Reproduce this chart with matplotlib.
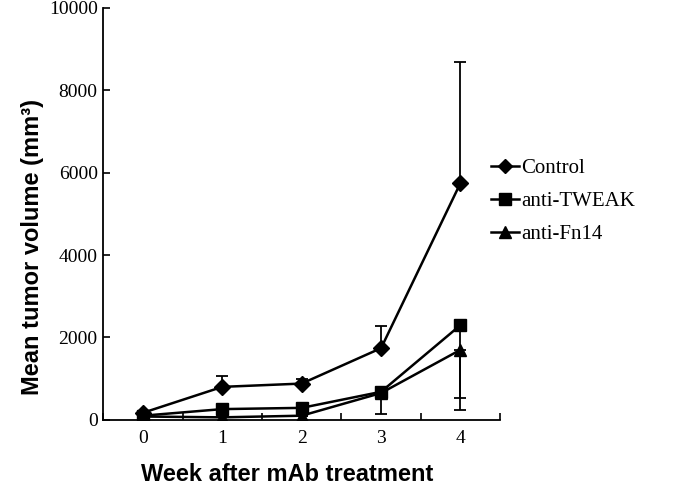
import matplotlib.pyplot as plt
from matplotlib.lines import Line2D
import numpy as np

weeks = [0, 1, 2, 3, 4]
control = [170, 800, 880, 1740, 5750]
control_err = [0, 270, 120, 540, 2950]
tweak = [100, 260, 290, 680, 2300]
tweak_err = [0, 0, 0, 0, 2050]
fn14 = [80, 60, 100, 650, 1700]
fn14_err = [0, 0, 0, 500, 1170]

plt.rcParams['font.family'] = ['Liberation Serif', 'DejaVu Serif']

fig = plt.figure(figsize=(6.88, 4.98), dpi=100)
ax = fig.add_axes([0.150, 0.157, 0.577, 0.827])

x = np.array(weeks)
z = np.zeros(len(x))
series = [(control, [z, control_err], 'D', 8, 'Control'),
          (tweak, [tweak_err, z], 's', 9, 'anti-TWEAK'),
          (fn14, [fn14_err, z], '^', 9, 'anti-Fn14')]
handles = []
for vals, err, mk, ms, lab in series:
    ax.errorbar(x, vals, yerr=err, color='black', lw=1.8, marker=mk, ms=ms,
                capsize=4, elinewidth=1.3, capthick=1.3)
    handles.append(Line2D([], [], color='black', lw=1.8, marker=mk, ms=ms - 1, label=lab))

ax.set_xlim(-0.5, 4.5)
ax.set_ylim(0, 10000)
ax.set_xticks(x)
ax.set_xticklabels([str(w) for w in weeks])
ax.set_xticks(np.arange(-0.5, 4.6, 1), minor=True)
ax.tick_params(axis='x', which='major', length=0, labelsize=14, pad=7)
ax.tick_params(axis='x', which='minor', direction='in', length=5, width=1.2)
ax.set_yticks(np.arange(0, 10001, 2000))
ax.tick_params(axis='y', direction='in', length=5, width=1.2, labelsize=14, pad=4)

for s in ['top', 'right']:
    ax.spines[s].set_visible(False)
for s in ['left', 'bottom']:
    ax.spines[s].set_linewidth(1.3)

ax.set_xlabel('Week after mAb treatment', fontsize=17, fontweight='bold',
              family='Liberation Sans')
ax.set_ylabel('Mean tumor volume (mm³)', fontsize=17, fontweight='bold',
              family='Liberation Sans')
ax.xaxis.set_label_coords(0.464, -0.133)
ax.xaxis.label.set_va('center')
ax.yaxis.set_label_coords(-0.178, 0.42)
ax.yaxis.label.set_va('center')

ax.legend(handles=handles, loc='upper left', bbox_to_anchor=(0.93, 0.68), frameon=False,
          fontsize=15, handlelength=1.35, handletextpad=0.1, labelspacing=0.65)

fig.savefig('out.png', dpi=100)
